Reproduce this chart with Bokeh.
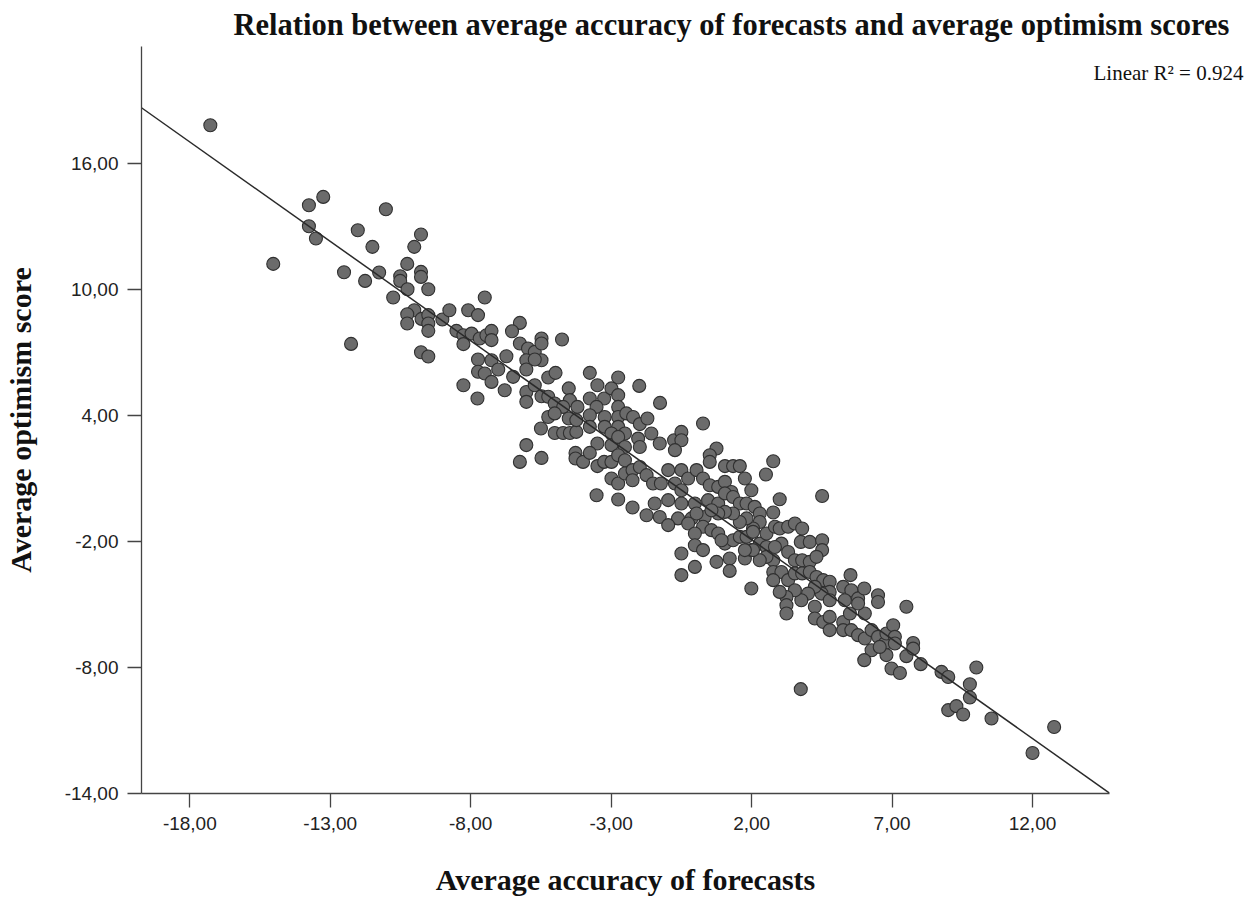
from bokeh.plotting import figure
from bokeh.models import Range1d, FixedTicker, LinearAxis
from bokeh.embed import file_html
from bokeh.resources import INLINE

# ---------------- data ----------------
acc_upper = [-17.27, -13.76, -13.25, -13.76, -13.51, -15.03, -11.02, -12.02, -11.50, -9.77,
             -10.01, -10.26, -12.51, -11.76, -11.26, -10.51, -10.51, -9.77, -9.77, -10.25,
             -9.51, -10.76, -10.01, -10.26, -10.26, -9.75, -9.51, -9.51, -9.51, -9.01,
             -8.76, -8.51, -8.26, -8.26, -8.09, -12.26, -9.77, -9.51, -8.26]
opt_upper = [17.82, 14.01, 14.41, 13.01, 12.43, 11.22, 13.82, 12.82, 12.03, 12.62,
             12.03, 11.22, 10.82, 10.41, 10.81, 10.63, 10.41, 10.84, 10.60, 10.01,
             10.01, 9.62, 9.01, 8.82, 8.38, 8.60, 8.78, 8.38, 8.03, 8.57,
             9.01, 8.03, 7.82, 7.40, 9.01, 7.41, 7.01, 6.81, 5.44]

acc_mid = [-7.50, -7.74, -7.97, -7.68, -7.44, -7.26, -7.26, -6.25, -6.53, -6.25,
           -5.96, -5.72, -5.48, -5.48, -4.75, -5.48, -6.02, -5.72, -6.73, -7.74,
           -7.26, -7.74, -7.50, -7.02, -7.26, -6.79, -6.49, -6.02, -7.76, -6.02,
           -6.02, -5.72, -5.48, -5.24, -4.98, -5.24, -5.01, -4.51, -4.47, -4.71,
           -4.20, -3.76, -3.49, -3.76, -3.25, -2.75, -2.99, -2.75, -2.00, -1.26,
           -3.52, -2.75, -5.24, -5.01, -5.50, -5.01, -4.71, -4.47, -4.24, -4.51,
           -4.24, -3.76, -3.76, -3.23, -3.23, -2.75, -2.75, -2.46, -2.22, -1.98,
           -1.71, -2.51, -2.99, -3.49, -2.99, -2.75, -2.51, -2.04, -1.98, -1.57,
           -1.27, -0.76, -0.50, -0.50, -0.73, 0.27, 0.75, 0.51, 0.51, 1.05,
           1.34, -6.02, -6.25, -5.48, -4.27, -4.27, -4.00, -3.76, -3.49, -3.25,
           -2.99, -2.75, -2.51, -2.99, -2.75, -2.51, -2.24, -2.24, -1.98, -1.74,
           -1.51, -1.23, -0.97, -0.73, -0.50, -0.26, 0.04, 0.27, 0.51, 0.81,
           1.05, 1.28, -3.52, -2.75, -2.24, -1.74, -1.45, -0.97, -0.50, -0.02,
           0.45, 0.81, -1.27, -0.62, -0.14, 0.33]
opt_mid = [9.62, 8.78, 7.90, 7.67, 7.82, 8.03, 7.59, 8.41, 8.01, 7.43,
           7.19, 7.03, 7.67, 7.43, 7.62, 6.63, 6.63, 6.67, 6.82, 6.67,
           6.63, 6.08, 6.00, 6.19, 5.60, 5.20, 5.84, 6.19, 4.81, 5.12,
           4.65, 5.44, 4.92, 5.81, 6.03, 4.89, 4.57, 5.29, 4.73, 4.41,
           4.41, 6.03, 5.44, 4.81, 4.81, 5.81, 5.29, 4.97, 5.41, 4.60,
           4.41, 4.41, 3.93, 4.10, 3.38, 3.17, 3.17, 3.17, 3.22, 3.86,
           3.78, 4.01, 3.46, 3.93, 3.46, 3.93, 3.46, 4.10, 3.93, 3.59,
           3.86, 3.14, 3.14, 2.67, 2.59, 2.98, 2.50, 2.90, 2.50, 3.14,
           2.67, 2.82, 3.22, 2.82, 2.35, 3.62, 2.43, 2.11, 1.79, 1.59,
           1.59, 2.59, 1.79, 1.98, 2.22, 1.95, 1.79, 2.22, 1.59, 1.79,
           1.79, 2.11, 1.87, 1.00, 0.76, 1.24, 1.40, 0.92, 1.55, 1.16,
           0.76, 0.76, 1.40, 0.76, 1.40, 1.00, 1.40, 1.00, 0.68, 0.60,
           0.84, 0.36, 0.20, 0.00, -0.38, -0.75, -0.19, -0.03, -0.19, -0.19,
           -0.03, -0.19, -0.83, -0.90, -0.90, -0.83]

acc_core = [1.58, 1.76, 2.77, 2.51, 1.99, 3.00, 2.77, 4.51, -0.50, 1.05,
            1.34, 1.58, 1.82, 2.11, 2.29, 2.29, 2.05, 1.82, 1.58, 1.34,
            1.05, 0.81, 0.57, 0.04, -0.26, 0.27, 0.57, 0.81, 1.05, 1.34,
            1.58, 1.82, 2.05, -0.02, -0.02, 0.27, -0.50, -0.02, -0.50, 0.75,
            1.22, 1.22, 1.76, 1.99, 2.29, 2.53, 2.53, 2.83, 3.00, 3.30,
            3.54, 3.80, 3.75, 4.07, 4.51, 4.51, 3.06, 2.83, 3.30, 3.54,
            3.80, 4.07, 4.31, 2.77, 2.53, 2.29, 2.05, 1.76, 2.77, 3.06,
            2.77, 3.30, 3.54, 3.80, 4.07, 4.31, 4.55, 4.78, 5.26, 5.52,
            5.55, 5.79, 6.01, 6.50, 6.50, 7.51, 4.78, 4.49, 4.25, 4.01,
            3.77, 3.54, 3.24, 3.00, 3.24, 4.25, 4.78, 5.32, 1.99, -0.97,
            0.93]
opt_core = [1.59, 1.00, 1.82, 1.19, 0.44, 0.01, -0.62, 0.17, 0.44, 0.29,
            0.12, -0.19, -0.19, -0.35, -0.67, -1.07, -1.38, -0.90, -1.07, -0.67,
            -0.59, -0.67, -0.51, -0.67, -1.14, -1.30, -1.46, -1.62, -2.10, -1.94,
            -1.78, -1.78, -1.54, -1.62, -2.18, -2.41, -2.57, -3.21, -3.60, -2.97,
            -2.81, -3.40, -2.81, -2.41, -2.10, -1.62, -2.26, -1.30, -1.38, -1.30,
            -1.14, -1.38, -2.02, -2.02, -1.94, -2.41, -2.10, -2.26, -2.50, -2.89,
            -2.89, -2.97, -2.73, -2.89, -2.73, -2.89, -2.41, -2.41, -3.45, -3.45,
            -3.84, -3.84, -3.52, -3.52, -3.45, -3.69, -3.84, -3.92, -4.16, -3.60,
            -4.32, -4.71, -4.24, -4.56, -4.88, -5.11, -4.40, -4.48, -4.16, -4.48,
            -4.80, -4.32, -4.64, -4.40, -5.03, -5.11, -4.80, -4.80, -4.24, -1.22,
            -1.94]

acc_tail = [3.24, 4.25, 4.55, 4.78, 4.78, 5.26, 5.26, 5.50, 5.55, 5.79,
            6.03, 6.27, 6.03, 5.79, 6.27, 6.01, 6.50, 6.74, 6.80, 7.04,
            7.10, 6.80, 7.10, 6.98, 7.28, 7.51, 7.75, 3.75, 6.56, 7.75,
            8.02, 8.76, 9.00, 10.00, 9.77, 9.77, 9.00, 9.29, 9.53, 10.54,
            12.77, 12.00]
opt_tail = [-5.43, -5.67, -5.83, -6.22, -5.59, -5.83, -6.22, -5.43, -6.22, -6.46,
            -6.62, -6.22, -5.43, -4.95, -7.18, -7.65, -6.54, -6.86, -6.38, -5.99,
            -6.54, -7.41, -6.86, -8.05, -8.26, -7.46, -6.83, -9.03, -7.02, -7.10,
            -7.84, -8.21, -8.45, -8.00, -8.80, -9.43, -10.03, -9.84, -10.24, -10.43,
            -10.83, -12.07]

accuracy = acc_upper + acc_mid + acc_core + acc_tail
optimism = opt_upper + opt_mid + opt_core + opt_tail

X_TICKS = [-18, -13, -8, -3, 2, 7, 12]
Y_TICKS = [-14, -8, -2, 4, 10, 16]
FIT_SLOPE = -0.947
FIT_INTERCEPT = -0.02
R2_TEXT = "Linear R\u00b2 = 0.924"
TITLE = "Relation between average accuracy of forecasts and average optimism scores"
X_LABEL = "Average accuracy of forecasts"
Y_LABEL = "Average optimism score"


def fmt(v):
    return f"{v:.2f}".replace(".", ",")


PX_X = 28.09   # pixels per x unit
PX_Y = 21.0    # pixels per y unit
FRAME_W = 968
FRAME_H = 747
X_START = -19.72
Y_START = -14.0

p = figure(frame_width=FRAME_W, frame_height=FRAME_H,
           x_range=Range1d(X_START, X_START + FRAME_W / PX_X),
           y_range=Range1d(Y_START, Y_START + FRAME_H / PX_Y),
           output_backend="svg", toolbar_location=None,
           min_border_left=135, min_border_right=0,
           min_border_top=46, min_border_bottom=0)
p.xgrid.visible = False
p.ygrid.visible = False
p.outline_line_color = None
p.background_fill_color = "white"
p.border_fill_color = "white"

# main title, left aligned a little inside the frame, running past its right edge
p.title.text = TITLE
p.title.align = "left"
p.title.offset = 92
p.title.standoff = 10
p.title.text_font = "Liberation Serif"
p.title.text_font_size = "30.5px"
p.title.text_font_style = "bold"
p.title.text_color = "#111111"

for ax, ticks in ((p.xaxis[0], X_TICKS), (p.yaxis[0], Y_TICKS)):
    ax.ticker = FixedTicker(ticks=ticks)
    ax.major_label_overrides = {t: fmt(t) for t in ticks}
    ax.minor_tick_line_color = None
    ax.major_tick_in = 0
    ax.major_tick_out = 14
    ax.major_tick_line_color = "#444444"
    ax.major_tick_line_width = 1.3
    ax.axis_line_color = "#444444"
    ax.axis_line_width = 1.3
    ax.major_label_text_font = "Liberation Sans"
    ax.major_label_text_font_size = "19px"
    ax.major_label_text_color = "#222222"
    ax.major_label_standoff = 9
    ax.axis_label_text_font = "Liberation Serif"
    ax.axis_label_text_font_size = "30px"
    ax.axis_label_text_font_style = "bold"
    ax.axis_label_text_color = "#111111"

p.xaxis.axis_label = X_LABEL
p.yaxis.axis_label = Y_LABEL
p.xaxis.axis_label_standoff = 30
p.yaxis.axis_label_standoff = 25

# fit annotation, carried by a bare axis on the right (text is not clipped there)
R2_Y = 20.30
r2_axis = LinearAxis(ticker=FixedTicker(ticks=[R2_Y]),
                     major_label_overrides={R2_Y: R2_TEXT},
                     axis_line_color=None, major_tick_line_color=None,
                     minor_tick_line_color=None, major_tick_in=0,
                     major_tick_out=0, major_label_standoff=-16,
                     major_label_text_font="Liberation Serif",
                     major_label_text_font_size="21px",
                     major_label_text_color="#111111")
p.add_layout(r2_axis, "right")

p.scatter(accuracy, optimism, size=13, fill_color="#6b6b6b",
          line_color="#303030", line_width=1.1)

xs = [p.x_range.start, p.x_range.end]
ys = [FIT_INTERCEPT + FIT_SLOPE * x for x in xs]
p.line(xs, ys, line_color="#2a2a2a", line_width=1.5)

open("out.html", "w").write(file_html(p, INLINE))
